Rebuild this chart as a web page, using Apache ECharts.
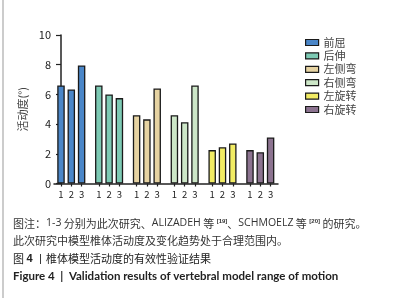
<!DOCTYPE html>
<html>
<head>
<meta charset="utf-8">
<script src="https://cdn.jsdelivr.net/npm/echarts@6/dist/echarts.min.js"></script>
<style>
html,body{margin:0;padding:0;background:#fff;}
#main{width:403px;height:298px;}
</style>
</head>
<body>
<div id="main"></div>
<script>
// 数据
var groupNames = ['前屈', '后伸', '左侧弯', '右侧弯', '左旋转', '右旋转'];
var studyLabels = ['1', '2', '3'];
var flexion = [6.6, 6.33, 7.95];
var extension = [6.6, 6.0, 5.75];
var leftBend = [4.6, 4.32, 6.4];
var rightBend = [4.6, 4.12, 6.6];
var leftRot = [2.25, 2.44, 2.7];
var rightRot = [2.25, 2.1, 3.1];
var yTicks = [0, 2, 4, 6, 8, 10];
var colors = ['#4a86c8', '#7dcab4', '#e6d3a2', '#cde7c8', '#f2ec64', '#8c7390'];

var allValues = [flexion, extension, leftBend, rightBend, leftRot, rightRot];
var groupStep = 3.67; // 组间距（以柱位为单位）

var tickPos = [];
var tickText = [];
var series = allValues.map(function (vals, g) {
    var data = vals.map(function (v, i) {
        var x = g * groupStep + i;
        tickPos.push(x);
        tickText.push(studyLabels[i]);
        return [x, v];
    });
    return {
        name: groupNames[g],
        type: 'bar',
        data: data,
        barWidth: 7.5,
        barGap: '-100%',
        itemStyle: {
            color: colors[g],
            borderColor: '#1a1a1a',
            borderWidth: 1.3
        }
    };
});

var mychart = echarts.init(document.getElementById('main'));

var capFont = "11px 'Noto Sans CJK SC'";
var latin = {fontFamily: 'Open Sans', fontSize: 10.5, fill: '#333'};

var option = {
    animation: false,
    textStyle: {fontFamily: "'Noto Sans CJK SC', sans-serif"},
    grid: {left: 54, top: 35, width: 224, height: 148.5},
    legend: {
        orient: 'vertical',
        left: 300,
        top: 32,
        itemWidth: 13,
        itemHeight: 6,
        itemGap: 2.4,
        icon: 'rect',
        itemStyle: {borderColor: '#1a1a1a', borderWidth: 1.2},
        textStyle: {color: '#444', fontSize: 11, lineHeight: 11},
        data: groupNames
    },
    xAxis: {
        type: 'value',
        min: -0.68,
        max: 21.07,
        splitLine: {show: false},
        axisLine: {show: true, lineStyle: {color: '#222', width: 1.5}},
        axisTick: {show: true, customValues: tickPos, length: 3, lineStyle: {color: '#222', width: 1.2}},
        axisLabel: {
            customValues: tickPos,
            color: '#222',
            fontSize: 9.5,
            margin: 6,
            formatter: function (val) {
                for (var k = 0; k < tickPos.length; k++) {
                    if (Math.abs(tickPos[k] - val) < 0.01) return tickText[k];
                }
                return '';
            }
        }
    },
    yAxis: {
        type: 'value',
        min: 0,
        max: 10,
        interval: 2,
        name: '活动度(°)',
        nameLocation: 'middle',
        nameGap: 26,
        nameTextStyle: {color: '#444', fontSize: 11},
        splitLine: {show: false},
        axisLine: {show: true, lineStyle: {color: '#222', width: 1.5}},
        axisTick: {show: true, length: 5, lineStyle: {color: '#222', width: 1.2}},
        axisLabel: {color: '#222', fontSize: 11, margin: 3}
    },
    graphic: [
        {
            type: 'line',
            shape: {x1: 3, y1: 0, x2: 3, y2: 298},
            style: {stroke: '#999', lineWidth: 1}
        },
        {
            type: 'text',
            left: 13,
            top: 218,
            style: {
                text: '图注：{e|1-3} 分别为此次研究、{e|ALIZADEH} 等 {s|[19]}、{e|SCHMOELZ} 等 {s|[20]} 的研究。',
                font: capFont,
                fill: '#333',
                rich: {
                    e: latin,
                    s: {fontSize: 6, fontWeight: 'bold', verticalAlign: 'top', fill: '#333'}
                }
            }
        },
        {
            type: 'text',
            left: 13,
            top: 235,
            style: {
                text: '此次研究中模型椎体活动度及变化趋势处于合理范围内。',
                font: capFont,
                fill: '#333'
            }
        },
        {
            type: 'text',
            left: 13,
            top: 253,
            style: {
                text: '图 {b|4} 丨椎体模型活动度的有效性验证结果',
                font: capFont,
                fill: '#222',
                rich: {
                    b: {fontWeight: 'bold', fontSize: 11, fill: '#222'}
                }
            }
        },
        {
            type: 'text',
            left: 13,
            top: 270,
            style: {
                text: 'Figure 4  |  Validation results of vertebral model range of motion',
                font: "bold 11.5px Lato",
                fill: '#222'
            }
        }
    ],
    series: series
};
mychart.setOption(option);
</script>
</body>
</html>
